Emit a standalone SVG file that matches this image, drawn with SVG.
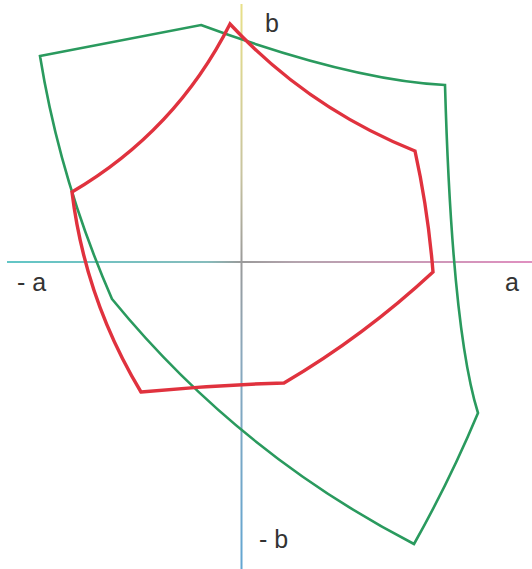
<svg xmlns="http://www.w3.org/2000/svg" width="532" height="569" viewBox="0 0 532 569">
<defs>
<style>
.lbl{font-family:"Liberation Sans",Arial,sans-serif;font-size:25px;fill:#333333}
.green{fill:none;stroke:#2a9a5e;stroke-width:2.6;stroke-linejoin:miter}
.red{fill:none;stroke:#e0323e;stroke-width:3.4;stroke-linejoin:miter}
</style>
<linearGradient id="hx" gradientUnits="userSpaceOnUse" x1="7" y1="0" x2="532" y2="0">
<stop offset="0" stop-color="#62c6c6"/>
<stop offset="0.38" stop-color="#86bcbc"/>
<stop offset="0.446" stop-color="#9a9a9a"/>
<stop offset="0.55" stop-color="#b4a4ae"/>
<stop offset="1" stop-color="#e08fc0"/>
</linearGradient>
<linearGradient id="vy" gradientUnits="userSpaceOnUse" x1="0" y1="4" x2="0" y2="569">
<stop offset="0" stop-color="#e8e088"/>
<stop offset="0.3" stop-color="#c8c4a0"/>
<stop offset="0.457" stop-color="#9a9a9a"/>
<stop offset="0.62" stop-color="#8aa8bc"/>
<stop offset="1" stop-color="#62a6d2"/>
</linearGradient>
</defs>
<rect width="532" height="569" fill="#ffffff"/>
<g id="axes">
<line x1="7" y1="262" x2="532" y2="262" stroke="url(#hx)" stroke-width="2"/>
<line x1="241.5" y1="4" x2="241.5" y2="569" stroke="url(#vy)" stroke-width="2"/>
</g>
<g id="connectors">
<path id="green-gamut" class="green" d="M40 56 L201 25 Q350 80 445 85 Q452 330 478 413 Q450 480 414 544 Q238 453 112 299 Q60 180 40 56 Z"/>
<path id="red-gamut" class="red" d="M230 24 Q308 108 415 151 Q428 210 433 272 Q364 336 284 383 Q212 385 141 392 Q85 299 72 192 Q176 131 230 24 Z"/>
</g>
<g id="labels">
<text class="lbl" x="265" y="32">b</text>
<text class="lbl" x="17" y="291">- a</text>
<text class="lbl" x="505" y="291">a</text>
<text class="lbl" x="259" y="548">- b</text>
</g>
</svg>
